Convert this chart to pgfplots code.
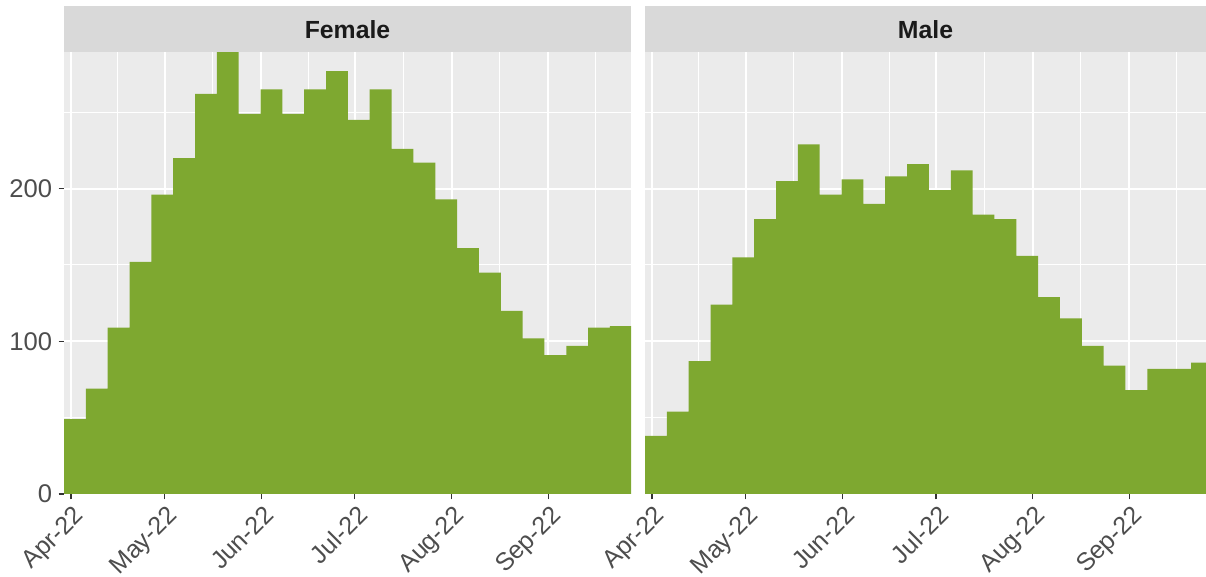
\documentclass[border=0pt]{standalone}
\usepackage{pgfplots}
\usepackage{pgfplotstable}
\pgfplotsset{compat=1.18}
\usepackage{fontspec}
\setmainfont{Liberation Sans}
\definecolor{barfill}{HTML}{7EA830}
\definecolor{panelbg}{HTML}{EBEBEB}
\definecolor{stripbg}{HTML}{D9D9D9}
\definecolor{ticklab}{HTML}{4D4D4D}
\definecolor{tickcol}{HTML}{333333}
\definecolor{striptext}{HTML}{1A1A1A}

% weekly bins: centre (days from 1 Apr 2022), Female count, Male count
\pgfplotstableread{
x      f    m
1.26   49   38
8.26   69   54
15.26  109  87
22.26  152  124
29.26  196  155
36.26  220  180
43.26  262  205
50.26  290  229
57.26  249  196
64.26  265  206
71.26  249  190
78.26  265  208
85.26  277  216
92.26  245  199
99.26  265  212
106.26 226  183
113.26 217  180
120.26 193  156
127.26 161  129
134.26 145  115
141.26 120  97
148.26 102  84
155.26 91   68
162.26 97   82
169.26 109  82
176.26 110  86
}\hist

\newcommand{\labfont}{\fontsize{12.5}{15}\selectfont}
\newcommand{\ylabfont}{\fontsize{12.8}{15}\selectfont}
\newcommand{\stripfont}{\fontsize{12.4}{15}\selectfont}

\pgfplotsset{
  facet/.style={
    scale only axis,
    height=221pt,
    ymin=0, ymax=289.5,
    xmin=-2.24,
    axis background/.style={fill=panelbg},
    axis line style={draw=none},
    grid=both,
    major grid style={white, line width=1pt},
    minor grid style={white, line width=0.5pt},
    xtick={0,30,61,91,122,153},
    xticklabels={Apr-22,May-22,Jun-22,Jul-22,Aug-22,Sep-22},
    minor xtick={15,45.5,76,106.5,137.5,168},
    ytick={0,100,200},
    minor ytick={50,150,250},
    tick align=outside,
    tick pos=left,
    major tick length=2.75pt,
    minor tick length=0pt,
    tick style={tickcol, line width=0.6pt},
    /pgf/number format/assume math mode=true,
    xticklabel style={rotate=45, anchor=north east, font=\labfont, text=ticklab, inner sep=1pt, yshift=-1pt},
    yticklabel style={font=\ylabfont, text=ticklab, inner sep=1pt, xshift=-2pt},
  },
  histbar/.style={ybar, bar width=7, bar shift=0pt, fill=barfill, draw=none},
}

\begin{document}
\begin{tikzpicture}
\useasboundingbox (0,0) rectangle (603pt,288.5pt);
\begin{axis}[facet, name=fem, at={(32pt,41.5pt)}, anchor=south west,
  width=283.5pt, xmax=179.5]
  \addplot[histbar] table[x=x, y=f] {\hist};
\end{axis}
\begin{axis}[facet, name=mal, at={(322.5pt,41.5pt)}, anchor=south west,
  width=280.5pt, xmax=177.57, yticklabels={}, ytick style={draw=none}]
  \addplot[histbar] table[x=x, y=m] {\hist};
\end{axis}
\fill[stripbg] (fem.north west) rectangle ([yshift=23pt]fem.north east);
\fill[stripbg] (mal.north west) rectangle ([yshift=23pt]mal.north east);
\node[font=\bfseries\stripfont, text=striptext] at ([yshift=11pt]fem.north) {Female};
\node[font=\bfseries\stripfont, text=striptext] at ([yshift=11pt]mal.north) {Male};
\end{tikzpicture}
\end{document}
